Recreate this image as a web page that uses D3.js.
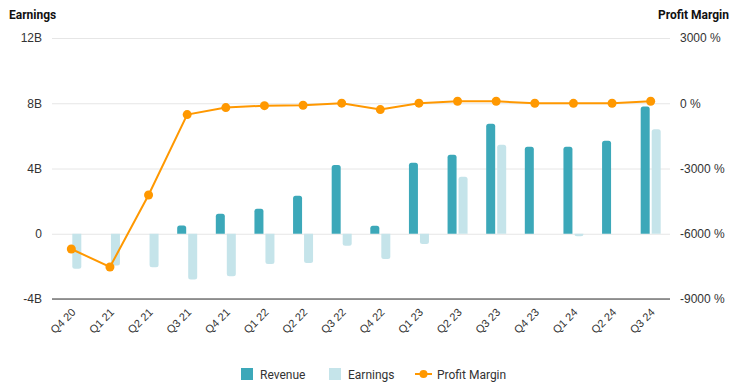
<!DOCTYPE html>
<html>
<head>
<meta charset="utf-8">
<script src="https://cdn.jsdelivr.net/npm/d3@7"></script>
<style>
  body { margin: 0; background: #fff; }
  svg { display: block; }
</style>
</head>
<body>
<div class="rellenar"></div>
<script>
// datos
var quarters = ["Q4 20", "Q1 21", "Q2 21", "Q3 21", "Q4 21", "Q1 22", "Q2 22", "Q3 22",
                "Q4 22", "Q1 23", "Q2 23", "Q3 23", "Q4 23", "Q1 24", "Q2 24", "Q3 24"];
var revenue = [0, 0, 0, 0.5, 1.23, 1.53, 2.33, 4.22, 0.49, 4.35, 4.84, 6.74, 5.33, 5.33, 5.7, 7.8];
var earnings = [-2.15, -1.95, -2.05, -2.8, -2.6, -1.85, -1.8, -0.73, -1.55, -0.63, 3.5, 5.45, 0.02, -0.16, 0.02, 6.4];
var margin = [-6700, -7530, -4220, -520, -200, -110, -90, 5, -290, 5, 90, 90, 0, -5, 0, 90];
var leftTicks = [-4, 0, 4, 8, 12];
var rightTicks = [-9000, -6000, -3000, 0, 3000];

var w = 739;
var h = 389;
var m = { left: 52, right: 69, top: 38, bottom: 90 };

var svg = d3.select(".rellenar")
    .append("svg")
    .attr("width", w)
    .attr("height", h)
    .style("font-family", "Roboto, 'Liberation Sans', Arial, sans-serif");

var x = d3.scaleBand()
    .domain(quarters)
    .range([m.left, w - m.right]);

var y = d3.scaleLinear()
    .domain([-4, 12])
    .range([h - m.bottom, m.top]);

var y2 = d3.scaleLinear()
    .domain([-9000, 3000])
    .range([h - m.bottom, m.top]);

// lineas de la grilla
svg.append("g")
    .attr("transform", "translate(" + m.left + ",0)")
    .call(d3.axisLeft(y).tickValues(leftTicks).tickSize(-(w - m.left - m.right))
        .tickFormat(function(d) { return d === 0 ? "0" : d + "B"; }))
    .call(function(g) {
        g.select(".domain").remove();
        g.selectAll(".tick line").attr("stroke", "#e6e6e6");
        g.selectAll(".tick text").attr("x", -10).attr("fill", "#333").style("font-size", "12px")
            .style("font-family", "'Liberation Sans', Arial, sans-serif");
    });

svg.append("g")
    .attr("transform", "translate(" + (w - m.right) + ",0)")
    .call(d3.axisRight(y2).tickValues(rightTicks).tickSize(0).tickFormat(function(d) { return d + " %"; }))
    .call(function(g) {
        g.select(".domain").remove();
        g.selectAll(".tick text").attr("x", 10).attr("fill", "#333").style("font-size", "12px")
            .style("font-family", "'Liberation Sans', Arial, sans-serif");
    });

// barras con esquinas redondeadas del lado exterior
function barPath(x0, bw, v) {
    var y0 = y(0), y1 = y(v);
    var hgt = Math.abs(y1 - y0);
    var r = Math.min(2.5, hgt);
    if (hgt < 0.5) return "";
    if (v >= 0) {
        return "M" + x0 + "," + y0 + "V" + (y1 + r) + "Q" + x0 + "," + y1 + " " + (x0 + r) + "," + y1 +
            "H" + (x0 + bw - r) + "Q" + (x0 + bw) + "," + y1 + " " + (x0 + bw) + "," + (y1 + r) + "V" + y0 + "Z";
    }
    return "M" + x0 + "," + y0 + "V" + (y1 - r) + "Q" + x0 + "," + y1 + " " + (x0 + r) + "," + y1 +
        "H" + (x0 + bw - r) + "Q" + (x0 + bw) + "," + y1 + " " + (x0 + bw) + "," + (y1 - r) + "V" + y0 + "Z";
}

var bw = 9;

svg.selectAll("path.rev")
    .data(revenue)
    .enter()
    .append("path")
    .attr("class", "rev")
    .attr("d", function(d, i) {
        var c = x(quarters[i]) + x.bandwidth() / 2;
        return barPath(c - bw - 1, bw, d);
    })
    .attr("fill", "#3ca8b9");

svg.selectAll("path.earn")
    .data(earnings)
    .enter()
    .append("path")
    .attr("class", "earn")
    .attr("d", function(d, i) {
        var c = x(quarters[i]) + x.bandwidth() / 2;
        return barPath(c + 1, bw, d);
    })
    .attr("fill", "#c5e4ea");

// eje inferior
svg.append("line")
    .attr("x1", m.left)
    .attr("x2", w - m.right)
    .attr("y1", y(-4))
    .attr("y2", y(-4))
    .attr("stroke", "#333")
    .attr("stroke-width", 1);

svg.selectAll("text.xlab")
    .data(quarters)
    .enter()
    .append("text")
    .attr("class", "xlab")
    .text(function(d) { return d; })
    .attr("text-anchor", "end")
    .attr("transform", function(d) {
        return "translate(" + (x(d) + x.bandwidth() / 2 + 5) + "," + (y(-4) + 14) + ") rotate(-45)";
    })
    .attr("fill", "#333")
    .style("font-size", "11px")
    .style("font-family", "'Liberation Sans', Arial, sans-serif");

// linea de margen
var line = d3.line()
    .x(function(d, i) { return x(quarters[i]) + x.bandwidth() / 2; })
    .y(function(d) { return y2(d); });

svg.append("path")
    .datum(margin)
    .attr("d", line)
    .attr("fill", "none")
    .attr("stroke", "#ff9800")
    .attr("stroke-width", 2);

svg.selectAll("circle.pm")
    .data(margin)
    .enter()
    .append("circle")
    .attr("class", "pm")
    .attr("cx", function(d, i) { return x(quarters[i]) + x.bandwidth() / 2; })
    .attr("cy", function(d) { return y2(d); })
    .attr("r", 4.5)
    .attr("fill", "#ff9800");

// titulos de ejes
svg.append("text")
    .text("Earnings")
    .attr("x", 9)
    .attr("y", 19)
    .attr("fill", "#111")
    .style("font-size", "12px")
    .style("font-weight", "bold");

svg.append("text")
    .text("Profit Margin")
    .attr("x", 729)
    .attr("y", 19)
    .attr("text-anchor", "end")
    .attr("fill", "#111")
    .style("font-size", "12px")
    .style("font-weight", "bold");

// leyenda
var lg = svg.append("g").style("font-size", "12px").attr("fill", "#333");

lg.append("rect").attr("x", 241).attr("y", 368).attr("width", 12).attr("height", 12).attr("fill", "#3ca8b9");
lg.append("text").text("Revenue").attr("x", 260).attr("y", 379);

lg.append("rect").attr("x", 329).attr("y", 368).attr("width", 12).attr("height", 12).attr("fill", "#c5e4ea");
lg.append("text").text("Earnings").attr("x", 348).attr("y", 379);

lg.append("line").attr("x1", 415).attr("x2", 432).attr("y1", 374).attr("y2", 374)
    .attr("stroke", "#ff9800").attr("stroke-width", 2);
lg.append("circle").attr("cx", 423.5).attr("cy", 374).attr("r", 4).attr("fill", "#ff9800");
lg.append("text").text("Profit Margin").attr("x", 437).attr("y", 379);
</script>
</body>
</html>
